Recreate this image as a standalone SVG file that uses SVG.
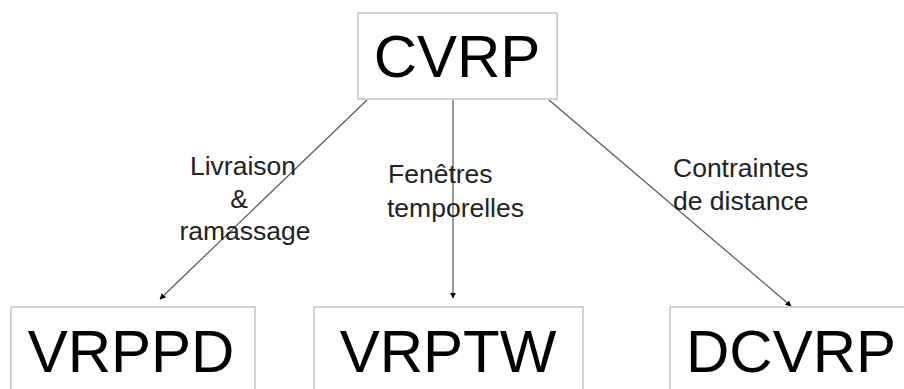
<svg xmlns="http://www.w3.org/2000/svg" width="904" height="389" viewBox="0 0 904 389">
<style>
.box{fill:#fff;stroke:#c4c4c4;stroke-width:1.5}
.big{font-family:"Liberation Sans",Arial,sans-serif;font-size:60px;fill:#000}
.lbl{font-family:"Liberation Sans",Arial,sans-serif;font-size:26.5px;fill:#222}
.edge{stroke:#555;stroke-width:1.2;fill:none;marker-end:url(#ah)}
</style>
<defs>
<marker id="ah" viewBox="0 0 10 10" refX="9" refY="5" markerWidth="6" markerHeight="6" markerUnits="userSpaceOnUse" orient="auto">
<path d="M0,0 L10,5 L0,10 z" fill="#000"/>
</marker>
</defs>
<rect width="904" height="389" fill="#fff"/>
<g id="edges">
<line class="edge" x1="367" y1="100" x2="160" y2="299"/>
<line class="edge" x1="453" y1="100" x2="453" y2="298"/>
<line class="edge" x1="549" y1="100" x2="791" y2="306"/>
</g>
<g id="cvrp">
<rect class="box" x="358" y="13" width="199" height="86"/>
<text class="big" x="457" y="77" text-anchor="middle">CVRP</text>
</g>
<g id="vrppd">
<rect class="box" x="11" y="307" width="244" height="100"/>
<text class="big" x="131" y="372" text-anchor="middle">VRPPD</text>
</g>
<g id="vrptw">
<rect class="box" x="314" y="307" width="269" height="100"/>
<text class="big" x="448" y="372" text-anchor="middle">VRPTW</text>
</g>
<g id="dcvrp">
<rect class="box" x="670" y="307" width="260" height="100"/>
<text class="big" x="791" y="372" text-anchor="middle">DCVRP</text>
</g>
<g id="labels">
<text class="lbl" x="243" y="175" text-anchor="middle">Livraison</text>
<text class="lbl" x="239" y="208" text-anchor="middle">&amp;</text>
<text class="lbl" x="245" y="240" text-anchor="middle">ramassage</text>
<text class="lbl" x="388" y="183">Fenêtres</text>
<text class="lbl" x="387" y="217">temporelles</text>
<text class="lbl" x="673" y="177">Contraintes</text>
<text class="lbl" x="673" y="210">de distance</text>
</g>
</svg>
